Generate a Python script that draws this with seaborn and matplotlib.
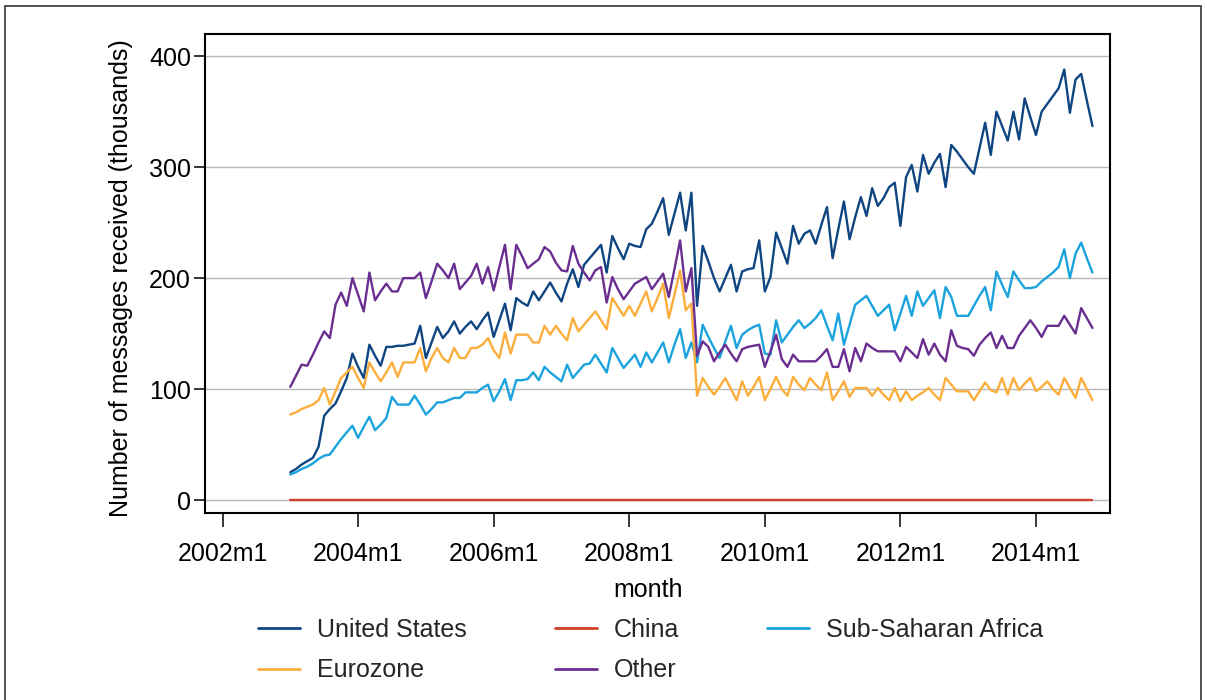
import matplotlib
matplotlib.use("Agg")
import matplotlib.pyplot as plt
from matplotlib import font_manager
from matplotlib.lines import Line2D
from matplotlib.patches import Rectangle
import pandas as pd
import seaborn as sns

# Monthly series, 2003m1 .. 2014m11 (thousands of messages)
first_year = 2003
first_month = 1

united_states = [
    25, 28, 32, 35, 38, 48, 76, 82, 87, 98,
    110, 132, 120, 110, 140, 130, 121, 138, 138, 139,
    139, 140, 141, 157, 128, 142, 156, 146, 152, 161,
    150, 156, 161, 154, 162, 169, 147, 162, 177, 153,
    182, 178, 175, 188, 180, 188, 196, 187, 179, 195,
    208, 192, 212, 218, 224, 230, 205, 238, 227, 217,
    231, 229, 228, 244, 249, 260, 272, 239, 258, 277,
    243, 277, 175, 229, 215, 200, 188, 200, 212, 188,
    206, 208, 209, 234, 188, 201, 241, 227, 213, 247,
    231, 240, 243, 231, 248, 264, 218, 244, 269, 235,
    255, 273, 256, 281, 265, 272, 282, 286, 247, 291,
    302, 278, 311, 294, 304, 312, 282, 320, 314, 307,
    300, 294, 317, 340, 311, 350, 337, 324, 350, 325,
    362, 345, 329, 350, 357, 364, 371, 388, 349, 379,
    384, 360, 337,
]

china = [
    0, 0, 0, 0, 0, 0, 0, 0, 0, 0,
    0, 0, 0, 0, 0, 0, 0, 0, 0, 0,
    0, 0, 0, 0, 0, 0, 0, 0, 0, 0,
    0, 0, 0, 0, 0, 0, 0, 0, 0, 0,
    0, 0, 0, 0, 0, 0, 0, 0, 0, 0,
    0, 0, 0, 0, 0, 0, 0, 0, 0, 0,
    0, 0, 0, 0, 0, 0, 0, 0, 0, 0,
    0, 0, 0, 0, 0, 0, 0, 0, 0, 0,
    0, 0, 0, 0, 0, 0, 0, 0, 0, 0,
    0, 0, 0, 0, 0, 0, 0, 0, 0, 0,
    0, 0, 0, 0, 0, 0, 0, 0, 0, 0,
    0, 0, 0, 0, 0, 0, 0, 0, 0, 0,
    0, 0, 0, 0, 0, 0, 0, 0, 0, 0,
    0, 0, 0, 0, 0, 0, 0, 0, 0, 0,
    0, 0, 0,
]

sub_saharan_africa = [
    23, 25, 28, 30, 33, 37, 40, 41, 48, 55,
    61, 67, 56, 66, 75, 63, 68, 74, 93, 86,
    86, 86, 94, 86, 77, 82, 88, 88, 90, 92,
    92, 97, 97, 97, 101, 104, 89, 98, 109, 90,
    108, 108, 109, 115, 108, 120, 115, 111, 107, 122,
    110, 116, 122, 123, 131, 123, 115, 137, 128, 119,
    125, 131, 120, 133, 124, 133, 142, 124, 140, 154,
    128, 142, 124, 158, 147, 137, 128, 143, 157, 137,
    149, 153, 156, 158, 132, 131, 162, 142, 149, 156,
    162, 155, 159, 164, 171, 157, 144, 168, 140, 158,
    176, 180, 184, 175, 166, 171, 176, 153, 168, 184,
    166, 188, 175, 182, 189, 164, 192, 183, 166, 166,
    166, 175, 184, 192, 171, 206, 194, 183, 206, 198,
    191, 191, 192, 197, 201, 205, 210, 226, 200, 222,
    232, 218, 205,
]

eurozone = [
    77, 79, 82, 84, 86, 90, 101, 86, 98, 110,
    115, 120, 110, 101, 124, 115, 107, 115, 124, 111,
    124, 124, 124, 137, 116, 128, 137, 128, 124, 137,
    128, 128, 137, 137, 140, 146, 135, 128, 151, 132,
    149, 149, 149, 142, 142, 157, 149, 157, 150, 144,
    164, 152, 158, 164, 170, 162, 154, 182, 174, 166,
    175, 166, 177, 188, 170, 182, 195, 164, 185, 207,
    171, 177, 94, 110, 102, 95, 102, 110, 100, 90,
    107, 94, 102, 111, 90, 100, 111, 100, 94, 111,
    104, 99, 110, 104, 99, 115, 90, 98, 107, 93,
    101, 101, 101, 94, 101, 95, 90, 101, 89, 98,
    90, 94, 97, 101, 95, 90, 110, 104, 98, 98,
    98, 90, 98, 106, 99, 97, 110, 95, 110, 99,
    105, 110, 98, 102, 107, 100, 95, 110, 101, 92,
    110, 100, 90,
]

other = [
    102, 112, 122, 121, 131, 142, 152, 146, 176, 187,
    175, 200, 185, 170, 205, 180, 188, 195, 188, 188,
    200, 200, 200, 205, 182, 197, 213, 207, 200, 213,
    190, 196, 202, 213, 195, 210, 189, 210, 230, 190,
    230, 220, 209, 213, 217, 228, 224, 214, 207, 206,
    229, 213, 205, 198, 207, 210, 178, 201, 190, 181,
    188, 195, 198, 201, 190, 197, 204, 183, 208, 234,
    188, 209, 130, 143, 138, 125, 133, 140, 132, 125,
    136, 138, 139, 140, 120, 134, 149, 127, 120, 131,
    125, 125, 125, 125, 130, 136, 120, 120, 136, 116,
    137, 125, 141, 137, 134, 134, 134, 134, 125, 138,
    133, 128, 145, 131, 141, 131, 125, 153, 139, 137,
    136, 130, 140, 146, 151, 137, 148, 137, 137, 148,
    155, 162, 155, 147, 157, 157, 157, 166, 158, 150,
    173, 164, 155,
]

regions = ["United States", "China", "Sub-Saharan Africa", "Eurozone", "Other"]
region_colors = ["#0f4581", "#cf4129", "#1ba3dd", "#fbae3c", "#6a2e91"]
series = [united_states, china, sub_saharan_africa, eurozone, other]

tick_years = [2002, 2004, 2006, 2008, 2010, 2012, 2014]
y_ticks = [0, 100, 200, 300, 400]
x_title = "month"
y_title = "Number of messages received (thousands)"

# Months counted from 2002m1 so the axis labels sit on whole numbers
base_year = 2002
rows = []
for name, values in zip(regions, series):
    for i, v in enumerate(values):
        t = (first_year - base_year) * 12 + (first_month - 1) + i
        rows.append({"t": t, "value": v, "region": name})
df = pd.DataFrame(rows)

sns.set_style("white")
installed = {f.name for f in font_manager.fontManager.ttflist}
if "Liberation Sans Narrow" in installed:
    plt.rcParams["font.family"] = ["Liberation Sans Narrow", "DejaVu Sans"]
    fs = 21.5
else:
    plt.rcParams["font.family"] = ["Liberation Sans", "DejaVu Sans"]
    fs = 18
fs_px = fs * 100 / 72

W, H = 1207, 700
fig = plt.figure(figsize=(W / 100, H / 100), dpi=100)
ax = fig.add_axes([205 / W, 1 - 513 / H, 905 / W, 479 / H])

sns.lineplot(
    data=df, x="t", y="value", hue="region", hue_order=regions,
    palette=region_colors, linewidth=1.7, legend=False, ax=ax,
)

ax.set_xlim(-3.1, 157.1)
ax.set_ylim(-11.7, 420)

ax.set_xticks([(y - base_year) * 12 for y in tick_years])
ax.set_xticklabels([f"{y}m1" for y in tick_years])
ax.set_yticks(y_ticks)
ax.set_yticklabels([str(v) for v in y_ticks])

ax.yaxis.grid(True, color="#b9b9b9", linewidth=1.0)
ax.xaxis.grid(False)
ax.set_axisbelow(True)

for side in ["left", "right", "top", "bottom"]:
    ax.spines[side].set_visible(True)
    ax.spines[side].set_color("black")
    ax.spines[side].set_linewidth(1.5)

ax.tick_params(axis="y", direction="out", length=8, width=1.1, pad=2,
               labelsize=fs, colors="black", left=True)
ax.tick_params(axis="x", direction="out", length=10, width=1.1, pad=11,
               labelsize=fs, colors="black", bottom=True)

ax.set_xlabel(x_title, fontsize=fs, color="black")
ax.xaxis.set_label_coords(0.49, -0.135)
ax.set_ylabel(y_title, fontsize=fs, color="black")
ax.yaxis.set_label_coords(-0.0796, 0.49)

# Legend laid out row by row: US, China, SSA / Eurozone, Other
order = [0, 3, 1, 4, 2]
handles = [Line2D([0], [0], color=region_colors[i], linewidth=2.0) for i in order]
labels = [regions[i] for i in order]
fig.legend(
    handles, labels, loc="center", bbox_to_anchor=(651 / W, 1 - 650 / H),
    ncol=3, frameon=False, fontsize=fs,
    handlelength=42 / fs_px, handletextpad=17 / fs_px,
    columnspacing=88 / fs_px, labelspacing=0.66,
)

# Outer frame around the whole graph
fig.add_artist(Rectangle((5 / W, -0.02), 1196 / W, (H - 6) / H + 0.02,
                         transform=fig.transFigure, fill=False,
                         edgecolor="#444444", linewidth=1.3))

fig.savefig("out.png", dpi=100)
